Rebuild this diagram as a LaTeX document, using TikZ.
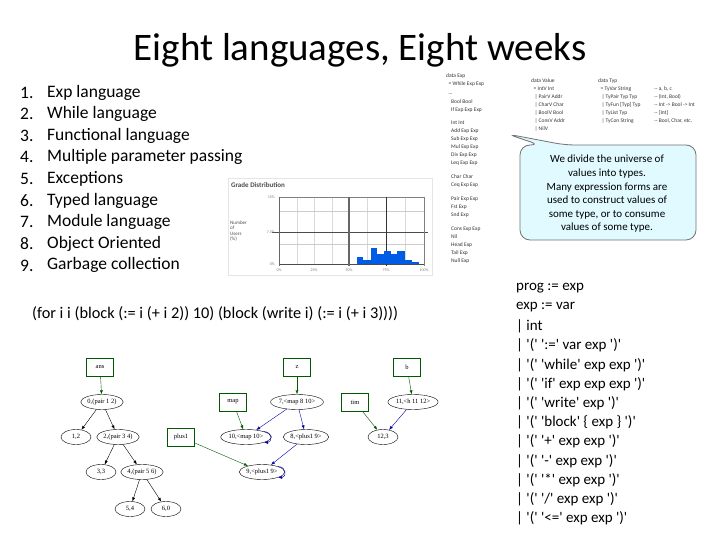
\documentclass[tikz,border=0pt]{standalone}
\usepackage{fontspec}
\setmainfont{Carlito}
\newfontfamily\grfont{Liberation Serif}
\usetikzlibrary{shapes.geometric,arrows.meta}
\def\q{\textquotesingle}
\begin{document}
\begin{tikzpicture}[x=1pt,y=-1pt,
  gbox/.style={draw=green!35!black,thick,minimum width=27pt,minimum height=18pt,inner sep=1pt,font=\grfont\fontsize{6.5}{7}\selectfont},
  gell/.style={draw,ellipse,inner sep=0.5pt,minimum height=15pt,minimum width=30pt,font=\grfont\fontsize{6.5}{7}\selectfont},
  ge/.style={-{Latex[length=4pt]},black,thin},
  gg/.style={-{Latex[length=4pt]},green!35!black,thin},
  gb/.style={-{Latex[length=4pt]},blue!70!black,thin},
  li/.style={anchor=west,font=\fontsize{17.5}{18}\selectfont,inner sep=0},
  sm/.style={anchor=west,font=\fontsize{5.5}{6}\selectfont,inner sep=0,text=black!80},
  gr/.style={anchor=west,font=\fontsize{15}{16}\selectfont,inner sep=0}]
\useasboundingbox[fill=white] (0,0) rectangle (720,540);
\node[font=\fontsize{39}{40}\selectfont] (title) at (360,50) {Eight languages, Eight weeks};
% list
\foreach \i/\t in {1/Exp language,2/While language,3/Functional language,4/Multiple parameter passing,5/Exceptions,6/Typed language,7/Module language,8/Object Oriented,9/Garbage collection}{
  \node[li] (n\i) at (20,{71+21.6*\i}) {\i.};
  \node[li] (l\i) at (47,{71+21.6*\i}) {\t};
}
% chart
\node[draw=black!10,fill=white,minimum width=204pt,minimum height=97pt,anchor=north west,inner sep=0] (chart) at (228,178) {};
\node[anchor=west,font=\bfseries\fontsize{7}{8}\selectfont,text=black!70,inner sep=0] (ctitle) at (231,185) {Grade Distribution};
\foreach \x in {297,314,332,367,405} \draw[black!15] (\x,197) -- (\x,264);
\draw[black!20] (279,244) -- (424,244);
\draw[black!20] (279,211) -- (424,211);
\draw[black!50] (279,197) -- (424,197);
\draw[black!70] (272,232) -- (428,232);
\draw[black!70] (279,264) -- (424,264);
\draw[black!60] (279,197) -- (279,266);
\draw[black!60,line width=1.2pt] (349,197) -- (349,266);
\draw[black!80] (386,197) -- (386,266);
\draw[black!50] (424,197) -- (424,266);
\foreach \a/\b/\h in {356.7/363.3/256.7,363.3/370.7/260.3,370.7/377.3/248.3,377.3/384/254.3,384/390.7/251,390.7/397.3/254.3,397.3/405/251,405/412/259.7,412/419/262}
  \fill[blue!60!cyan!90!black] (\a,264) rectangle (\b,\h);
\foreach \y/\t in {197/15\%,232/7.5\%,264/0\%} \node[anchor=east,font=\fontsize{4}{5}\selectfont,text=black!50,inner sep=1pt] at (276,\y) {\t};
\foreach \x/\t in {279/0\%,314/25\%,349/50\%,386/75\%,424/100\%} \node[font=\fontsize{4}{5}\selectfont,text=black!50,inner sep=0] at (\x,270) {\t};
\node[anchor=west,align=left,font=\fontsize{5}{5.5}\selectfont,text=black!70,inner sep=0] (ylab) at (230,231) {Number\\of\\Users\\(\%)};
% code
\node[anchor=west,font=\fontsize{16.3}{17}\selectfont,inner sep=0] (code) at (32,314) {(for i i (block (:= i (+ i 2)) 10) (block (write i) (:= i (+ i 3))))};
% small listing
\node[sm] at (446,94) {\ \ \ldots};
\foreach \y/\t in {76/data Exp,84/{\ \ = While Exp Exp},102/{\ \ \ \ Bool Bool},110/{\ \ \ \ If Exp Exp Exp},123/{\ \ \ \ Int Int},131/{\ \ \ \ Add Exp Exp},139/{\ \ \ \ Sub Exp Exp},147/{\ \ \ \ Mul Exp Exp},155/{\ \ \ \ Div Exp Exp},163/{\ \ \ \ Leq Exp Exp},177/{\ \ \ \ Char Char},185/{\ \ \ \ Ceq Exp Exp},199/{\ \ \ \ Pair Exp Exp},207/{\ \ \ \ Fst Exp},215/{\ \ \ \ Snd Exp},229/{\ \ \ \ Cons Exp Exp},237/{\ \ \ \ Nil},245/{\ \ \ \ Head Exp},253/{\ \ \ \ Tail Exp},261/{\ \ \ \ Null Exp}}
  \node[sm] at (446,\y) {\t};
\foreach \y/\t in {81/data Value,89/{\ \ = IntV Int},97/{\ \ \ | PairV Addr},105/{\ \ \ | CharV Char},113/{\ \ \ | BoolV Bool},121/{\ \ \ | ConsV Addr},129/{\ \ \ | NilV}}
  \node[sm] at (531,\y) {\t};
\foreach \y/\t/\c in {81/data Typ/{},89/{\ \ = TyVar String}/{-{}- a, b, c},97/{\ \ \ | TyPair Typ Typ}/{-{}- (Int, Bool)},105/{\ \ \ | TyFun [Typ] Typ}/{-{}- Int -> Bool -> Int},113/{\ \ \ | TyList Typ}/{-{}- [Int]},121/{\ \ \ | TyCon String}/{-{}- Bool, Char, etc.}}
  {\node[sm] at (598,\y) {\t}; \node[sm] at (654,\y) {\c};}
% callout
\draw[fill=blue!15!cyan!12,draw=black!55,thick,rounded corners=10pt]
  (520,145) -- (540,145) -- (507,134) -- (565,145) -- (696,145) -- (696,240) -- (520,240) -- cycle;
\node[align=center,font=\fontsize{11}{13.6}\selectfont] (callout) at (607,194) {We divide the universe of\\values into types.\\Many expression forms are\\used to construct values of\\some type, or to consume\\values of some type.};
% grammar
\foreach \i/\t in {0/{prog := exp},1/{exp := var},2/{| int},3/{| \q(\q\ \q:=\q\ var exp \q)\q},4/{| \q(\q\ \q while\q\ exp exp \q)\q},5/{| \q(\q\ \q if\q\ exp exp exp \q)\q},6/{| \q(\q\ \q write\q\ exp \q)\q},7/{| \q(\q\ \q block\q\ \{ exp \} \q)\q},8/{| \q(\q\ \q+\q\ exp exp \q)\q},9/{| \q(\q\ \q-\q\ exp exp \q)\q},10/{| \q(\q\ \q*\q\ exp exp \q)\q},11/{| \q(\q\ \q{}/\q\ exp exp \q)\q},12/{| \q(\q\ \q<=\q\ exp exp \q)\q}}
  \node[gr] (g\i) at (516,{288+19.2*\i}) {\t};
% graph
\node[gbox] (ans) at (100,367) {ans};
\node[gell] (e0) at (102,402) {0,(pair 1 2)};
\node[gell] (e1) at (76,437) {1,2};
\node[gell] (e2) at (118,437) {2,(pair 3 4)};
\node[gell] (e3) at (101,472) {3,3};
\node[gell] (e4) at (142,472) {4,(pair 5 6)};
\node[gell] (e5) at (130,509) {5,4};
\node[gell] (e6) at (166,509) {6,0};
\node[gbox] (plus) at (181,437) {plus1};
\node[gbox] (map) at (233,402) {map};
\node[gbox] (z) at (297,367) {z};
\node[gell] (e7) at (297,402) {7,<map 8 10>};
\node[gell] (e10) at (246,437) {10,<map 10>};
\node[gell] (e8) at (306,437) {8,<plus1 9>};
\node[gell] (e9) at (262,472) {9,<plus1 9>};
\node[gbox] (tim) at (355,402) {tim};
\node[gbox] (b) at (407,367) {b};
\node[gell] (e11) at (413,402) {11,<h 11 12>};
\node[gell] (e12) at (383,437) {12,3};
\draw[gg] (ans) -- (e0);
\draw[ge] (e0) -- (e1); \draw[ge] (e0) -- (e2);
\draw[ge] (e2) -- (e3); \draw[ge] (e2) -- (e4);
\draw[ge] (e4) -- (e5); \draw[ge] (e4) -- (e6);
\draw[gg] (z) -- (e7); \draw[gg] (map) -- (e10);
\draw[gb] (e7) -- (e10); \draw[gb] (e7) -- (e8);
\draw[gb] (e10.north east) to[out=0,in=0,looseness=2] (e10.south east);
\draw[gb] (e8) -- (e9); \draw[gg] (plus) -- (e9);
\draw[gb] (e9.north east) to[out=0,in=0,looseness=2] (e9.south east);
\draw[gg] (b) -- (e11); \draw[gg] (tim) -- (e12); \draw[gb] (e11) -- (e12);
\end{tikzpicture}
\end{document}
